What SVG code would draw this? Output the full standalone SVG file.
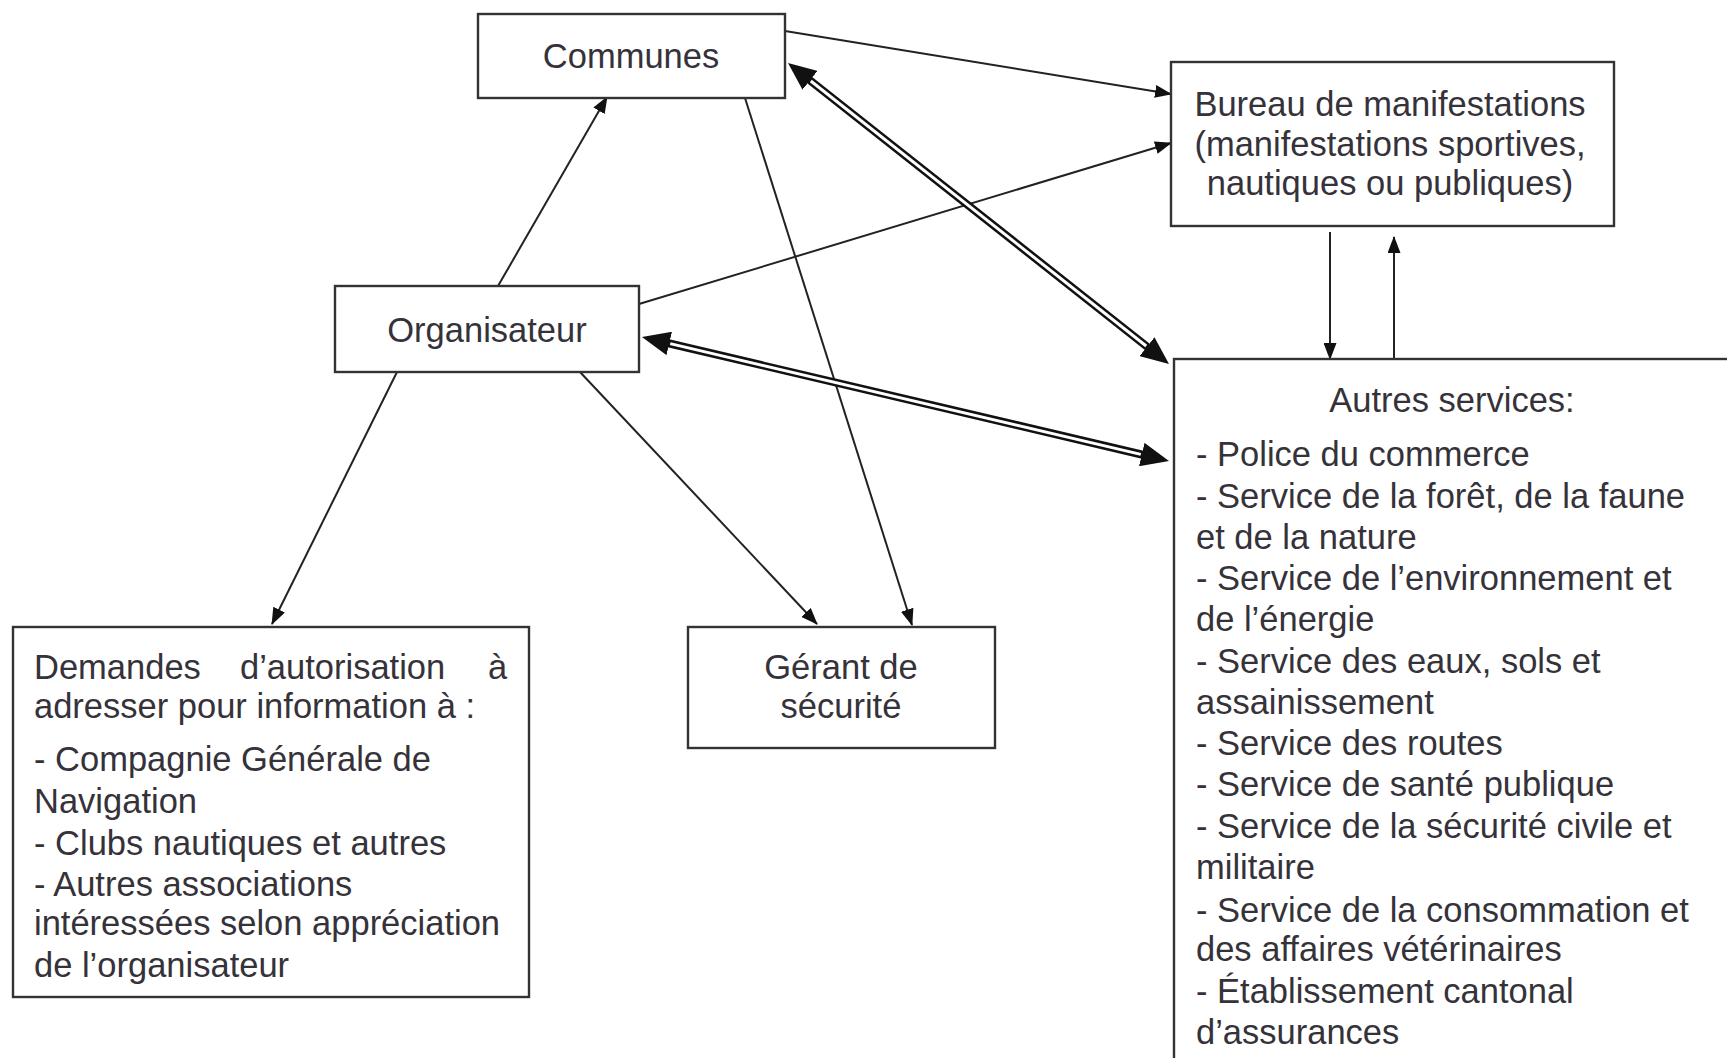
<svg xmlns="http://www.w3.org/2000/svg" width="1727" height="1058" viewBox="0 0 1727 1058">
<style>
.box{fill:#fff;stroke:#333;stroke-width:2.4}
.t{font-family:"Liberation Sans",Arial,sans-serif;font-size:34.5px;fill:#35323a}
.c{text-anchor:middle}
.ln{stroke:#222;stroke-width:2;fill:none}
.dbl{stroke:#111;stroke-width:8;fill:none}
.dblw{stroke:#fff;stroke-width:3;fill:none}
</style>
<defs>
<marker id="ah" markerUnits="userSpaceOnUse" markerWidth="17" markerHeight="13" refX="16" refY="6.5" orient="auto">
<path d="M0,0 L17,6.5 L0,13 z" fill="#111"/>
</marker>
<marker id="big" markerUnits="userSpaceOnUse" markerWidth="28" markerHeight="24" refX="2" refY="12" orient="auto-start-reverse">
<path d="M0,0 L28,12 L0,24 z" fill="#111"/>
</marker>
</defs>
<rect width="1727" height="1058" fill="#fff"/>
<g id="connectors">
<line class="ln" x1="785" y1="31" x2="1171" y2="94" marker-end="url(#ah)"/>
<line class="ln" x1="498" y1="286" x2="607" y2="97" marker-end="url(#ah)"/>
<line class="ln" x1="639" y1="304" x2="1171" y2="143" marker-end="url(#ah)"/>
<line class="ln" x1="745" y1="98" x2="912" y2="625" marker-end="url(#ah)"/>
<line class="ln" x1="580" y1="372" x2="817" y2="624" marker-end="url(#ah)"/>
<line class="ln" x1="397" y1="372" x2="272" y2="624" marker-end="url(#ah)"/>
<line class="ln" x1="1330" y1="232" x2="1330" y2="359" marker-end="url(#ah)"/>
<line class="ln" x1="1394" y1="359" x2="1394" y2="237" marker-end="url(#ah)"/>
<line class="dbl" x1="808.4" y1="79.1" x2="1148.6" y2="347.9" marker-start="url(#big)" marker-end="url(#big)"/>
<line class="dblw" x1="810.8" y1="81" x2="1146.2" y2="346"/>
<line class="dbl" x1="667.3" y1="343" x2="1143.7" y2="455" marker-start="url(#big)" marker-end="url(#big)"/>
<line class="dblw" x1="670.2" y1="343.6" x2="1140.8" y2="454.4"/>
</g>
<g id="communes">
<rect class="box" x="478" y="14" width="307" height="84"/>
<text class="t c" x="631" y="68">Communes</text>
</g>
<g id="bureau">
<rect class="box" x="1171" y="62" width="443" height="164"/>
<text class="t c" x="1390" y="116">Bureau de manifestations</text>
<text class="t c" x="1390" y="156">(manifestations sportives,</text>
<text class="t c" x="1390" y="195">nautiques ou publiques)</text>
</g>
<g id="organisateur">
<rect class="box" x="335" y="286" width="304" height="86"/>
<text class="t c" x="487" y="342">Organisateur</text>
</g>
<g id="gerant">
<rect class="box" x="688" y="627" width="307" height="121"/>
<text class="t c" x="841" y="679">Gérant de</text>
<text class="t c" x="841" y="718">sécurité</text>
</g>
<g id="demandes">
<rect class="box" x="13" y="627" width="516" height="370"/>
<text class="t" y="679"><tspan x="34">Demandes</tspan><tspan x="240">d’autorisation</tspan><tspan x="488">à</tspan></text>
<text class="t" x="34" y="718">adresser pour information à :</text>
<text class="t" x="34" y="771">- Compagnie Générale de</text>
<text class="t" x="34" y="813">Navigation</text>
<text class="t" x="34" y="855">- Clubs nautiques et autres</text>
<text class="t" x="34" y="896">- Autres associations</text>
<text class="t" x="34" y="935">intéressées selon appréciation</text>
<text class="t" x="34" y="977">de l’organisateur</text>
</g>
<g id="autres">
<rect class="box" x="1174" y="359" width="600" height="760"/>
<text class="t c" x="1452" y="412">Autres services:</text>
<text class="t" x="1196" y="466">- Police du commerce</text>
<text class="t" x="1196" y="508">- Service de la forêt, de la faune</text>
<text class="t" x="1196" y="549">et de la nature</text>
<text class="t" x="1196" y="590">- Service de l’environnement et</text>
<text class="t" x="1196" y="631">de l’énergie</text>
<text class="t" x="1196" y="673">- Service des eaux, sols et</text>
<text class="t" x="1196" y="714">assainissement</text>
<text class="t" x="1196" y="755">- Service des routes</text>
<text class="t" x="1196" y="796">- Service de santé publique</text>
<text class="t" x="1196" y="838">- Service de la sécurité civile et</text>
<text class="t" x="1196" y="879">militaire</text>
<text class="t" x="1196" y="922">- Service de la consommation et</text>
<text class="t" x="1196" y="961">des affaires vétérinaires</text>
<text class="t" x="1196" y="1003">- Établissement cantonal</text>
<text class="t" x="1196" y="1044">d’assurances</text>
</g>
</svg>
